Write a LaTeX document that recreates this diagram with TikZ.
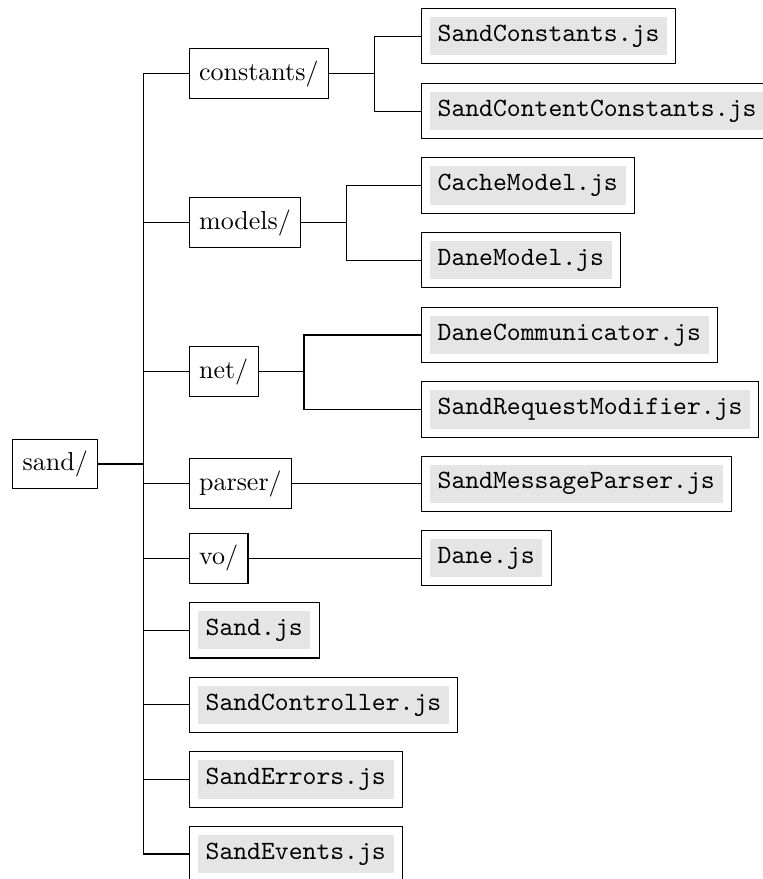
\documentclass[tikz,border=0pt]{standalone}
\begin{document}
\begin{tikzpicture}[x=0.3846pt, y=-0.3846pt]
\tikzset{
  dirbox/.style={draw, line width=0.4pt, inner xsep=3.8pt, inner ysep=0pt, minimum height=19.2pt, anchor=west},
  filebox/.style={draw, line width=0.4pt, inner sep=3.33pt, anchor=west},
  link/.style={line width=0.4pt},
}
\newcommand\jsfile[1]{\colorbox{gray!20}{\fontsize{10.15}{12}\selectfont\ttfamily #1}}
\useasboundingbox (0,0) rectangle (763,879);
% root
\node[dirbox] (sand) at (12.3,464) {sand/};
% level 1
\node[dirbox] (constants) at (188.7,73.7) {constants/};
\node[dirbox] (models) at (188.7,222.7) {models/};
\node[dirbox] (net) at (188.7,371.7) {net/};
\node[dirbox] (parser) at (188.7,483.7) {parser/};
\node[dirbox] (vo) at (188.7,558.3) {vo/};
\node[filebox] (sandjs) at (188.7,630.3) {\jsfile{Sand.js}};
\node[filebox] (controller) at (188.7,704.8) {\jsfile{SandController.js}};
\node[filebox] (errors) at (188.7,779.5) {\jsfile{SandErrors.js}};
\node[filebox] (events) at (188.7,854) {\jsfile{SandEvents.js}};
% level 2
\node[filebox] (sconst) at (420.7,36.2) {\jsfile{SandConstants.js}};
\node[filebox] (scconst) at (420.7,111.2) {\jsfile{SandContentConstants.js}};
\node[filebox] (cache) at (420.7,185.5) {\jsfile{CacheModel.js}};
\node[filebox] (danemodel) at (420.7,260.3) {\jsfile{DaneModel.js}};
\node[filebox] (danecomm) at (420.7,335) {\jsfile{DaneCommunicator.js}};
\node[filebox] (reqmod) at (420.7,409.5) {\jsfile{SandRequestModifier.js}};
\node[filebox] (msgparser) at (420.7,483.7) {\jsfile{SandMessageParser.js}};
\node[filebox] (dane) at (420.7,558.3) {\jsfile{Dane.js}};
% edges root
\foreach \c in {constants,models,net,parser,vo,sandjs,controller,errors,events}
  \draw[link] (sand.east) -- ++(45.6,0) |- (\c.west);
% edges level 2
\foreach \c in {sconst,scconst}
  \draw[link] (constants.east) -- ++(45.4,0) |- (\c.west);
\foreach \c in {cache,danemodel}
  \draw[link] (models.east) -- ++(45.4,0) |- (\c.west);
\foreach \c in {danecomm,reqmod}
  \draw[link] (net.east) -- ++(45.4,0) |- (\c.west);
\draw[link] (parser.east) -- (msgparser.west);
\draw[link] (vo.east) -- (dane.west);
\end{tikzpicture}
\end{document}
